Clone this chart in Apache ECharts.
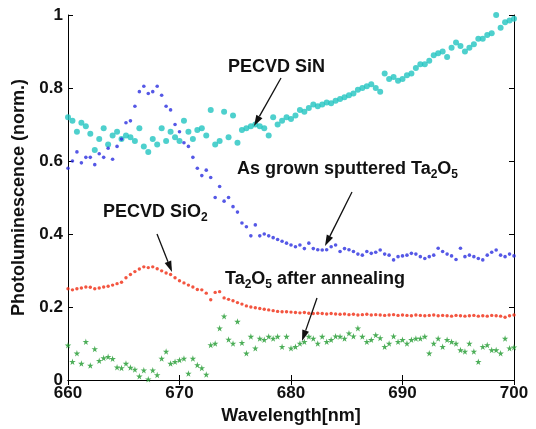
<!DOCTYPE html>
<html>
<head>
<meta charset="utf-8">
<script src="https://cdn.jsdelivr.net/npm/echarts@6/dist/echarts.min.js"></script>
<style>
  html, body { margin: 0; padding: 0; background: #fff; }
  #chart { width: 536px; height: 429px; }
</style>
</head>
<body>
<div id="chart"></div>
<script>
// wavelength grid (nm)
const wavelength = [
  660.0, 660.4, 660.8, 661.2, 661.6, 662.0, 662.4, 662.8, 663.2, 663.6,
  664.0, 664.4, 664.8, 665.2, 665.6, 666.0, 666.4, 666.8, 667.2, 667.6,
  668.0, 668.4, 668.8, 669.2, 669.6, 670.0, 670.4, 670.8, 671.2, 671.6,
  672.0, 672.4, 672.8, 673.2, 673.6, 674.0, 674.4, 674.8, 675.2, 675.6,
  676.0, 676.4, 676.8, 677.2, 677.6, 678.0, 678.4, 678.8, 679.2, 679.6,
  680.0, 680.4, 680.8, 681.2, 681.6, 682.0, 682.4, 682.8, 683.2, 683.6,
  684.0, 684.4, 684.8, 685.2, 685.6, 686.0, 686.4, 686.8, 687.2, 687.6,
  688.0, 688.4, 688.8, 689.2, 689.6, 690.0, 690.4, 690.8, 691.2, 691.6,
  692.0, 692.4, 692.8, 693.2, 693.6, 694.0, 694.4, 694.8, 695.2, 695.6,
  696.0, 696.4, 696.8, 697.2, 697.6, 698.0, 698.4, 698.8, 699.2, 699.6,
  700.0
];

// PECVD SiN
const sinValues = [
  0.72, 0.71, 0.68, 0.705, 0.695, 0.675, 0.63, 0.66, 0.69, 0.645,
  0.67, 0.68, 0.66, 0.67, 0.665, 0.655, 0.69, 0.64, 0.625, 0.66,
  0.645, 0.69, 0.655, 0.68, 0.665, 0.655, 0.71, 0.68, 0.66, 0.685,
  0.69, 0.67, 0.74, 0.645, 0.655, 0.735, 0.665, 0.725, 0.65, 0.685,
  0.69, 0.695, 0.70, 0.695, 0.69, 0.67, 0.72, 0.70, 0.71, 0.72,
  0.715, 0.725, 0.74, 0.735, 0.745, 0.755, 0.75, 0.755, 0.76, 0.758,
  0.765, 0.77, 0.775, 0.78, 0.785, 0.795, 0.80, 0.805, 0.81, 0.80,
  0.79, 0.84, 0.825, 0.83, 0.82, 0.825, 0.835, 0.84, 0.855, 0.865,
  0.865, 0.875, 0.89, 0.895, 0.90, 0.885, 0.91, 0.925, 0.915, 0.90,
  0.91, 0.92, 0.935, 0.935, 0.945, 0.95, 1.0, 0.965, 0.98, 0.985,
  0.99
];

// As grown sputtered Ta2O5
const asGrownValues = [
  0.58, 0.60, 0.625, 0.595, 0.61, 0.61, 0.59, 0.62, 0.61, 0.635,
  0.605, 0.64, 0.66, 0.705, 0.71, 0.75, 0.79, 0.805, 0.785, 0.79,
  0.805, 0.78, 0.75, 0.74, 0.70, 0.68, 0.65, 0.64, 0.61, 0.58,
  0.56, 0.575, 0.555, 0.50, 0.53, 0.49, 0.50, 0.475, 0.46, 0.43,
  0.42, 0.395, 0.425, 0.395, 0.40, 0.395, 0.39, 0.385, 0.38, 0.375,
  0.37, 0.365, 0.37, 0.36, 0.375, 0.36, 0.357, 0.356, 0.357, 0.365,
  0.37, 0.352, 0.36, 0.357, 0.352, 0.345, 0.342, 0.352, 0.347, 0.35,
  0.356, 0.345, 0.342, 0.329, 0.338, 0.34, 0.342, 0.347, 0.345, 0.338,
  0.333, 0.338, 0.342, 0.361, 0.352, 0.345, 0.34, 0.33, 0.361, 0.338,
  0.342, 0.338, 0.333, 0.329, 0.342, 0.35, 0.356, 0.342, 0.338, 0.345,
  0.34
];

// PECVD SiO2
const sio2Values = [
  0.25, 0.247, 0.25, 0.252, 0.255, 0.254, 0.25, 0.252, 0.255, 0.257,
  0.26, 0.264, 0.268, 0.28, 0.289, 0.297, 0.304, 0.31, 0.308, 0.31,
  0.305, 0.299, 0.293, 0.289, 0.28, 0.272, 0.266, 0.26, 0.255, 0.248,
  0.247, 0.238, 0.22, 0.24, 0.242, 0.225, 0.221, 0.217, 0.212, 0.208,
  0.203, 0.20, 0.198, 0.196, 0.194, 0.192, 0.19, 0.188, 0.187, 0.187,
  0.186, 0.185, 0.184, 0.185, 0.183, 0.182, 0.183, 0.182, 0.181, 0.182,
  0.181, 0.18, 0.181, 0.179, 0.18, 0.178, 0.179, 0.18, 0.178, 0.179,
  0.178, 0.177, 0.178, 0.179, 0.177, 0.178, 0.177, 0.176, 0.178, 0.177,
  0.176, 0.177, 0.178, 0.176, 0.177, 0.176, 0.175, 0.177, 0.176, 0.175,
  0.176, 0.177, 0.175, 0.176, 0.175, 0.177, 0.176, 0.175, 0.172, 0.176,
  0.178
];

// Ta2O5 after annealing
const annealedValues = [
  0.095, 0.05, 0.073, 0.045, 0.105, 0.04, 0.085, 0.053, 0.06, 0.064,
  0.058, 0.035, 0.033, 0.045, 0.034, 0.029, 0.01, 0.027, 0.002, 0.027,
  0.014, 0.059, 0.078, 0.045, 0.05, 0.055, 0.059, 0.018, 0.059, 0.041,
  0.033, 0.015, 0.096, 0.10, 0.142, 0.175, 0.111, 0.10, 0.16, 0.102,
  0.073, 0.119, 0.087, 0.114, 0.11, 0.119, 0.114, 0.119, 0.091, 0.119,
  0.087, 0.091, 0.10, 0.105, 0.119, 0.114, 0.10, 0.119, 0.105, 0.11,
  0.12, 0.119, 0.114, 0.128, 0.12, 0.142, 0.119, 0.105, 0.11, 0.123,
  0.115, 0.091, 0.10, 0.12, 0.105, 0.11, 0.10, 0.11, 0.114, 0.114,
  0.119, 0.073, 0.10, 0.114, 0.091, 0.11, 0.105, 0.10, 0.082, 0.078,
  0.10, 0.078, 0.05, 0.091, 0.096, 0.082, 0.082, 0.073, 0.114, 0.087,
  0.09
];

const pairs = vals => wavelength.map((w, i) => [w, vals[i]]);

const STAR = 'path://M50,0 L61,35 L98,35 L68,57 L79,91 L50,70 L21,91 L32,57 L2,35 L39,35 Z';
const FONT = '"Liberation Sans", Arial, sans-serif';

const arrow = (x1, y1, x2, y2) => {
  const ang = Math.atan2(y2 - y1, x2 - x1);
  const len = 11, w = 3.5;
  const bx = x2 - len * Math.cos(ang), by = y2 - len * Math.sin(ang);
  const px = -Math.sin(ang) * w, py = Math.cos(ang) * w;
  return [
    { type: 'line', shape: { x1: x1, y1: y1, x2: bx, y2: by }, style: { stroke: '#111', lineWidth: 1.3 }, z: 100 },
    { type: 'polygon', shape: { points: [[x2, y2], [bx + px, by + py], [bx - px, by - py]] }, style: { fill: '#111' }, z: 100 }
  ];
};

const label = (x, y, parts) => ({
  type: 'text', left: x, top: y, z: 100,
  style: {
    text: parts,
    font: 'bold 18px ' + FONT,
    fill: '#111',
    rich: {
      n: { font: 'bold 18px ' + FONT, fill: '#111' },
      s: { font: 'bold 12px ' + FONT, fill: '#111', verticalAlign: 'bottom', padding: [12, 0, 0, 0] }
    }
  }
});

const chart = echarts.init(document.getElementById('chart'));

const tickStyle = { show: true, inside: true, length: 5, lineStyle: { color: '#000' } };
const lineStyle = { show: true, lineStyle: { color: '#000', width: 1 } };

chart.setOption({
  animation: false,
  backgroundColor: '#fff',
  grid: { left: 68, right: 22, top: 15, bottom: 49, show: false, outerBoundsMode: 'none', containLabel: false },
  xAxis: [
    {
      type: 'value', min: 660, max: 700, interval: 10,
      name: 'Wavelength[nm]', nameLocation: 'middle', nameGap: 24,
      nameTextStyle: { fontFamily: FONT, fontWeight: 'bold', fontSize: 18, color: '#111' },
      axisLine: lineStyle, axisTick: tickStyle,
      axisLabel: { margin: 5, fontFamily: FONT, fontWeight: 'bold', fontSize: 17, color: '#111' },
      splitLine: { show: false }
    },
    {
      type: 'value', position: 'top', min: 660, max: 700, interval: 10,
      axisLine: lineStyle, axisTick: tickStyle, axisLabel: { show: false }, splitLine: { show: false }
    }
  ],
  yAxis: [
    {
      type: 'value', min: 0, max: 1, interval: 0.2,
      name: 'Photoluminescence (norm.)', nameLocation: 'middle', nameGap: 23,
      nameTextStyle: { fontFamily: FONT, fontWeight: 'bold', fontSize: 18, color: '#111' },
      axisLine: lineStyle, axisTick: tickStyle,
      axisLabel: {
        margin: 5, fontFamily: FONT, fontWeight: 'bold', fontSize: 17, color: '#111',
        formatter: v => (v === 0 || v === 1) ? String(v) : v.toFixed(1)
      },
      splitLine: { show: false }
    },
    {
      type: 'value', position: 'right', min: 0, max: 1, interval: 0.2,
      axisLine: lineStyle, axisTick: tickStyle, axisLabel: { show: false }, splitLine: { show: false }
    }
  ],
  series: [
    {
      name: 'PECVD SiN', type: 'scatter', data: pairs(sinValues),
      symbol: 'circle', symbolSize: 6, itemStyle: { color: '#22c4c0' }
    },
    {
      name: 'As grown sputtered Ta2O5', type: 'scatter', data: pairs(asGrownValues),
      symbol: 'circle', symbolSize: 3.6, itemStyle: { color: '#2a2ee0' }
    },
    {
      name: 'PECVD SiO2', type: 'scatter', data: pairs(sio2Values),
      symbol: 'circle', symbolSize: 3.4, itemStyle: { color: '#f02a10' }
    },
    {
      name: 'Ta2O5 after annealing', type: 'scatter', data: pairs(annealedValues),
      symbol: STAR, symbolSize: 6.5, itemStyle: { color: '#1f9a2e' }
    }
  ],
  graphic: [
    label(228, 58, '{n|PECVD SiN}'),
    ...arrow(281, 78, 254, 126),
    label(237, 160, '{n|As grown sputtered Ta}{s|2}{n|O}{s|5}'),
    ...arrow(352, 192, 325, 246),
    label(103, 203, '{n|PECVD SiO}{s|2}'),
    ...arrow(157, 234, 172, 272),
    label(225, 270, '{n|Ta}{s|2}{n|O}{s|5}{n| after annealing}'),
    ...arrow(317, 298, 302, 341)
  ]
});
</script>
</body>
</html>
